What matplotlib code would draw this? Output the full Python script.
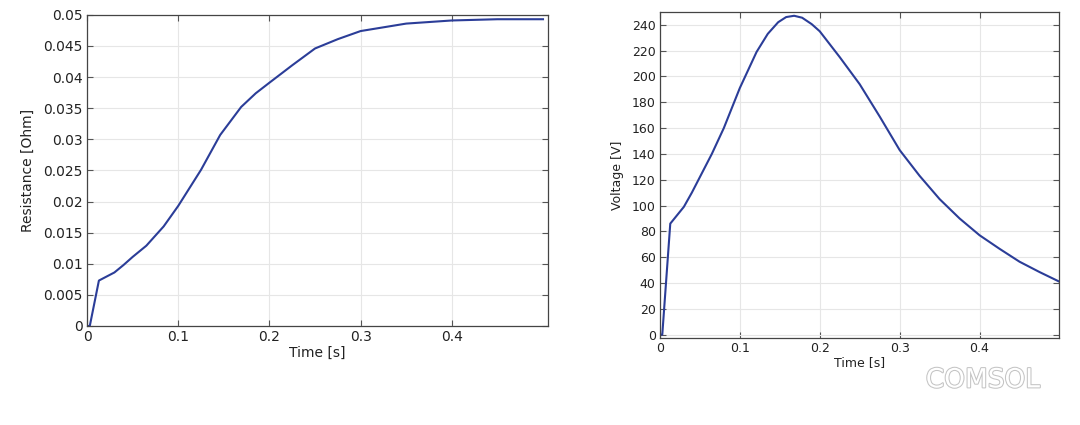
import matplotlib
matplotlib.use("Agg")
import matplotlib.pyplot as plt
import matplotlib.patheffects as pe
from matplotlib.ticker import MultipleLocator

# Resistance data
t_res = [0.0, 0.003, 0.013, 0.03, 0.04, 0.05, 0.065, 0.084, 0.1, 0.125, 0.146,
         0.169, 0.185, 0.2, 0.225, 0.25, 0.275, 0.3, 0.35, 0.4, 0.45, 0.5]
res = [0.0, 0.0, 0.0073, 0.0086, 0.0098, 0.0111, 0.0129, 0.016, 0.0193, 0.0251,
       0.0307, 0.0352, 0.0374, 0.0391, 0.0419, 0.0446, 0.0461, 0.0474, 0.0486,
       0.0491, 0.0493, 0.0493]

# Voltage data
t_volt = [0.0, 0.003, 0.013, 0.03, 0.04, 0.05, 0.065, 0.08, 0.1, 0.121, 0.135,
          0.148, 0.158, 0.168, 0.178, 0.19, 0.2, 0.225, 0.25, 0.275, 0.3, 0.325,
          0.35, 0.375, 0.4, 0.425, 0.45, 0.475, 0.5]
volt = [0.0, 0.0, 86.0, 99.0, 110.0, 122.0, 140.0, 160.0, 191.0, 219.0, 233.0,
        242.0, 246.0, 247.0, 245.5, 240.5, 235.0, 215.0, 194.0, 169.0, 143.0,
        123.0, 105.0, 90.0, 77.0, 66.5, 56.5, 48.5, 41.0]

line_color = "#2b3d98"

fig = plt.figure(figsize=(10.8, 4.25), dpi=100)
ax1 = fig.add_axes([0.0806, 0.233, 0.4264, 0.732])
ax2 = fig.add_axes([0.611, 0.205, 0.370, 0.767])

for ax in (ax1, ax2):
    ax.grid(True, color="#e6e6e6", linewidth=0.8)
    ax.set_axisbelow(True)
    ax.tick_params(direction="in", top=True, right=True, length=4,
                   color="#555555", labelsize=10, pad=3, labelcolor="#222222")
    for s in ax.spines.values():
        s.set_color("#444444")
        s.set_linewidth(0.9)

ax1.plot(t_res, res, color=line_color, linewidth=1.5)
ax1.set_xlim(0, 0.505)
ax1.set_ylim(0, 0.05)
ax1.set_xticks([0, 0.1, 0.2, 0.3, 0.4])
ax1.set_xticklabels(["0", "0.1", "0.2", "0.3", "0.4"])
ax1.set_yticks([0, 0.005, 0.01, 0.015, 0.02, 0.025, 0.03, 0.035, 0.04, 0.045, 0.05])
ax1.set_yticklabels(["0", "0.005", "0.01", "0.015", "0.02", "0.025", "0.03",
                     "0.035", "0.04", "0.045", "0.05"])
ax1.set_xlabel("Time [s]", fontsize=10, labelpad=1, color="#222222")
ax1.set_ylabel("Resistance [Ohm]", fontsize=10, labelpad=6, color="#222222")

ax2.plot(t_volt, volt, color=line_color, linewidth=1.5)
ax2.set_xlim(0, 0.5)
ax2.set_ylim(-2.5, 250)
ax2.set_xticks([0, 0.1, 0.2, 0.3, 0.4])
ax2.set_xticklabels(["0", "0.1", "0.2", "0.3", "0.4"])
ax2.set_yticks(list(range(0, 241, 20)))
ax2.tick_params(labelsize=9)
ax2.set_xlabel("Time [s]", fontsize=9, labelpad=1, color="#222222")
ax2.set_ylabel("Voltage [V]", fontsize=9, labelpad=6, color="#222222")

fig.text(0.963, 0.105, "COMSOL", fontsize=19, color="white", ha="right",
         va="center",
         path_effects=[pe.withStroke(linewidth=1.5, foreground="#c4c4c4")])

fig.savefig("out.png", dpi=100)
